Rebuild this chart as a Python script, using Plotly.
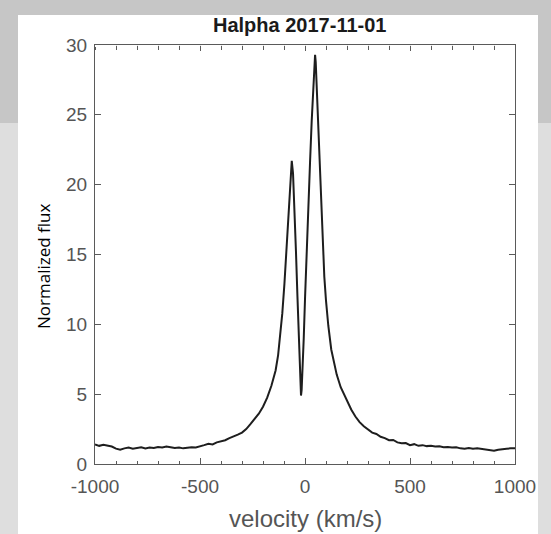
import plotly.graph_objects as go

# ---- data ----
velocity = [-1000, -980, -960, -940, -920, -900, -880, -860, -840, -820, -800, -780, -760, -740, -720,
            -700, -680, -660, -640, -620, -600, -580, -560, -540, -520, -500, -480, -460, -440, -420,
            -400, -380, -360, -340, -320, -300, -280, -260, -240, -220, -200, -180, -160, -140, -128,
            -118, -108, -98, -88, -78, -70, -63, -57, -50, -43, -36, -30, -25, -21, -19,
            -16, -12, -6, 0, 8, 16, 24, 32, 40, 45, 48, 51, 56, 62, 68,
            76, 84, 92, 100, 111, 125, 140, 151, 170, 185, 200, 220, 240, 260, 280,
            300, 320, 340, 360, 380, 400, 420, 440, 460, 480, 500, 520, 540, 560, 580,
            600, 620, 640, 660, 680, 700, 720, 740, 760, 780, 800, 820, 840, 860, 880,
            900, 920, 940, 960, 980, 1000]
flux = [1.40, 1.30, 1.38, 1.32, 1.25, 1.10, 1.02, 1.12, 1.18, 1.10, 1.15, 1.20, 1.12, 1.18, 1.15,
        1.22, 1.18, 1.25, 1.20, 1.15, 1.18, 1.12, 1.16, 1.20, 1.18, 1.25, 1.35, 1.45, 1.40, 1.55,
        1.62, 1.70, 1.85, 1.95, 2.10, 2.25, 2.50, 2.85, 3.20, 3.60, 4.10, 4.75, 5.60, 6.70, 7.80,
        9.10, 10.8, 12.9, 15.3, 17.9, 20.2, 21.7, 20.8, 18.3, 15.2, 12.0, 9.3, 7.1, 5.5, 4.9,
        5.3, 6.6, 9.0, 11.8, 15.5, 18.8, 21.6, 24.6, 27.6, 28.9, 29.3, 28.8, 26.9, 24.0, 21.3,
        18.2, 15.6, 13.4, 11.7, 9.9, 8.2, 7.1, 6.4, 5.5, 5.0, 4.5, 3.9, 3.4, 3.0, 2.7,
        2.45, 2.25, 2.15, 1.95, 1.85, 1.70, 1.72, 1.55, 1.48, 1.50, 1.35, 1.42, 1.30, 1.35, 1.28,
        1.30, 1.25, 1.27, 1.20, 1.22, 1.18, 1.20, 1.12, 1.10, 1.15, 1.10, 1.12, 1.08, 1.05, 1.00,
        0.95, 1.02, 1.08, 1.10, 1.12, 1.12]

x_tickvals = [-1000, -500, 0, 500, 1000]
x_ticktext = ["-1000", "-500", "0", "500", "1000"]
y_tickvals = [0, 5, 10, 15, 20, 25, 30]
y_ticktext = ["0", "5", "10", "15", "20", "25", "30"]

title_text = "Halpha 2017-11-01"
x_title = "velocity (km/s)"
y_title = "Normalized flux"

W, H = 551, 534
L, R, T, B = 95, 515, 45, 464  # plot area in pixels


def px(xp):
    return (xp - L) / (R - L)


def py(yp):
    return (B - yp) / (B - T)


AX = "#5a5a5a"

fig = go.Figure()
fig.add_trace(go.Scatter(x=velocity, y=flux, mode="lines",
                         line=dict(color="#1e1e1e", width=2), hoverinfo="skip"))
# thin strip subplot along the top frame, carrying the top minor tick marks
fig.add_trace(go.Scatter(x=velocity, y=flux, xaxis="x2", yaxis="y2", mode="lines",
                         opacity=0, hoverinfo="skip"))

tickfont = dict(family="Liberation Sans, Arial", size=19, color="#555555")

fig.update_layout(
    xaxis=dict(range=[-1000, 1000], tickvals=x_tickvals, ticktext=x_ticktext,
               showgrid=False, zeroline=False, showline=True, linecolor=AX, linewidth=1.2,
               mirror="allticks", ticks="inside", tickcolor=AX, ticklen=6, tickwidth=1.2,
               tickfont=tickfont, ticklabelstandoff=5,
               minor=dict(dtick=100, ticks="inside", ticklen=3, tickcolor=AX, tickwidth=1.2)),
    yaxis=dict(range=[0, 30], tickvals=y_tickvals, ticktext=y_ticktext, domain=[0, 1],
               showgrid=False, zeroline=False, showline=True, linecolor=AX, linewidth=1.2,
               mirror="allticks", ticks="inside", tickcolor=AX, ticklen=6, tickwidth=1.2,
               tickfont=tickfont, ticklabelstandoff=3),
    xaxis2=dict(range=[-1000, 1000], anchor="y2", side="bottom", domain=[0, 1],
                showgrid=False, zeroline=False, showline=False, showticklabels=False,
                tickmode="linear", tick0=-1000, dtick=100,
                ticks="outside", tickcolor=AX, ticklen=3.5, tickwidth=1.2),
    yaxis2=dict(range=[0, 1], domain=[0.998, 1], anchor="x2", visible=False),
)

shapes = [
    dict(type="rect", xref="paper", yref="paper", x0=px(0), x1=px(W), y0=py(123), y1=py(0),
         fillcolor="#c6c6c6", line=dict(width=0), layer="below"),
    dict(type="rect", xref="paper", yref="paper", x0=px(18), x1=px(538), y0=py(H + 10), y1=py(15),
         fillcolor="white", line=dict(width=0), layer="below"),
]

annotations = [
    dict(text=f"<b>{title_text}</b>", xref="paper", yref="paper", x=px(299), y=py(25),
         showarrow=False, xanchor="center", yanchor="middle",
         font=dict(family="Liberation Sans, Arial", size=20, color="#1a1a1a")),
    dict(text=x_title, xref="paper", yref="paper", x=px(305), y=py(518),
         showarrow=False, xanchor="center", yanchor="middle",
         font=dict(family="Liberation Sans, Arial", size=24, color="#555555")),
    dict(text=y_title, xref="paper", yref="paper", x=px(43), y=py(266),
         showarrow=False, xanchor="center", yanchor="middle", textangle=-90,
         font=dict(family="Open Sans", size=17, color="#000000")),
]

fig.update_layout(width=W, height=H, margin=dict(l=L, r=W - R, t=T, b=H - B, pad=0),
                  paper_bgcolor="#dedede", plot_bgcolor="white", showlegend=False,
                  shapes=shapes, annotations=annotations)

fig.write_html("out.html")
